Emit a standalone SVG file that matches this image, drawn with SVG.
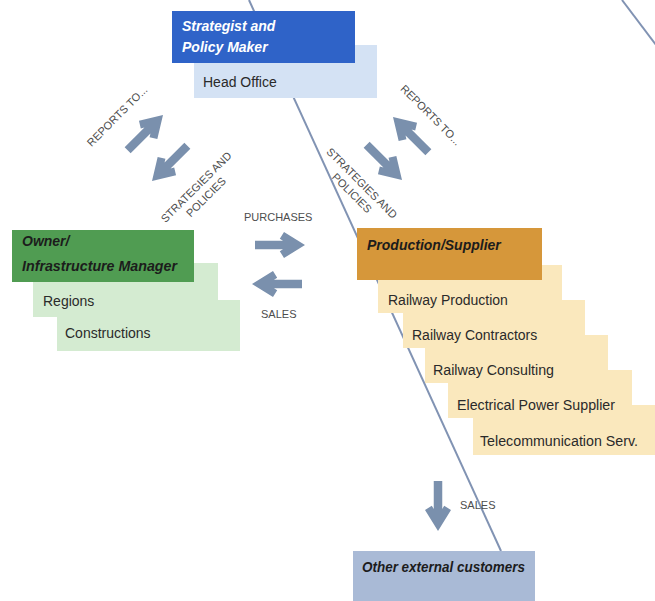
<svg xmlns="http://www.w3.org/2000/svg" width="655" height="601" viewBox="0 0 655 601">
<style>
text { font-family: "Liberation Sans", Arial, sans-serif; }
.t { font-size: 14px; fill: #2a2a2a; }
.h { font-size: 14px; font-weight: bold; font-style: italic; fill: #1c1c1c; }
.hw { fill: #ffffff; }
.lbl { font-size: 11px; fill: #4d4d4d; }
.arr { fill: #7a90ad; }
.div { stroke: #8193b3; stroke-width: 2; fill: none; }
.blue { fill: #2f63c8; }
.lblue { fill: #d4e2f4; }
.green { fill: #509c52; }
.lgreen { fill: #d4ebd1; }
.orange { fill: #d6973a; }
.wheat { fill: #fae8bd; }
.grey { fill: #a9bad6; }
</style>
<defs>
<path id="arrow" d="M0,0 L-21,-13 L-25.2,-6.2 L-22,-4.25 L-50,-4.25 L-50,4.25 L-22,4.25 L-25.2,6.2 L-21,13 Z"/>
</defs>
<rect width="655" height="601" fill="#ffffff"/>

<g id="dividers">
<line class="div" x1="249" y1="0" x2="501" y2="551"/>
<line class="div" x1="622" y1="0" x2="656" y2="45"/>
</g>

<g id="head-office">
<rect class="lblue" x="194" y="45" width="183" height="53"/>
<text class="t" x="203" y="87">Head Office</text>
</g>
<g id="strategist">
<rect class="blue" x="172" y="11" width="183" height="52"/>
<text class="h hw" x="182" y="31">Strategist and</text>
<text class="h hw" x="182" y="52">Policy Maker</text>
</g>

<g id="constructions">
<rect class="lgreen" x="57" y="300" width="183" height="51"/>
<text class="t" x="65" y="338">Constructions</text>
</g>
<g id="regions">
<rect class="lgreen" x="33" y="263" width="185" height="54"/>
<text class="t" x="43" y="306">Regions</text>
</g>
<g id="owner">
<rect class="green" x="12" y="230" width="182" height="52"/>
<text class="h" x="22" y="246">Owner/</text>
<text class="h" x="22" y="271" textLength="155" lengthAdjust="spacingAndGlyphs">Infrastructure Manager</text>
</g>

<g id="telecom">
<rect class="wheat" x="473" y="405" width="182" height="50"/>
<text class="t" x="480" y="446" textLength="158" lengthAdjust="spacingAndGlyphs">Telecommunication Serv.</text>
</g>
<g id="electrical">
<rect class="wheat" x="448" y="370" width="184" height="48"/>
<text class="t" x="457" y="410" textLength="158" lengthAdjust="spacingAndGlyphs">Electrical Power Supplier</text>
</g>
<g id="consulting">
<rect class="wheat" x="425" y="335" width="183" height="48"/>
<text class="t" x="433" y="375" textLength="121" lengthAdjust="spacingAndGlyphs">Railway Consulting</text>
</g>
<g id="contractors">
<rect class="wheat" x="403" y="300" width="182" height="48"/>
<text class="t" x="412" y="340">Railway Contractors</text>
</g>
<g id="railway-production">
<rect class="wheat" x="378" y="265" width="184" height="48"/>
<text class="t" x="388" y="305">Railway Production</text>
</g>
<g id="production-supplier">
<rect class="orange" x="357" y="228" width="185" height="52"/>
<text class="h" x="367" y="250">Production/Supplier</text>
</g>

<g id="external-customers">
<rect class="grey" x="353" y="551" width="182" height="50"/>
<text class="h" x="362" y="572" textLength="163" lengthAdjust="spacingAndGlyphs">Other external customers</text>
</g>

<g id="connectors">
<use href="#arrow" class="arr" transform="translate(163,115) rotate(-45)"/>
<use href="#arrow" class="arr" transform="translate(152,181) rotate(135)"/>
<use href="#arrow" class="arr" transform="translate(393,117) rotate(-135)"/>
<use href="#arrow" class="arr" transform="translate(402,180) rotate(45)"/>
<use href="#arrow" class="arr" transform="translate(305,245)"/>
<use href="#arrow" class="arr" transform="translate(252,284) rotate(180)"/>
<use href="#arrow" class="arr" transform="translate(438,531) rotate(90)"/>

<g transform="translate(117,116) rotate(-45)">
<text class="lbl" x="0" y="4" text-anchor="middle">REPORTS TO...</text>
</g>
<g transform="translate(196,187) rotate(-45)">
<text class="lbl" x="0" y="4" text-anchor="middle">STRATEGIES AND</text>
<text class="lbl" x="0" y="18" text-anchor="middle">POLICIES</text>
</g>
<g transform="translate(431,115) rotate(45)">
<text class="lbl" x="0" y="4" text-anchor="middle">REPORTS TO...</text>
</g>
<g transform="translate(362,183) rotate(45)">
<text class="lbl" x="0" y="4" text-anchor="middle">STRATEGIES AND</text>
<text class="lbl" x="0" y="18" text-anchor="middle">POLICIES</text>
</g>
<text class="lbl" x="244" y="221">PURCHASES</text>
<text class="lbl" x="261" y="318">SALES</text>
<text class="lbl" x="460" y="509">SALES</text>
</g>
</svg>
